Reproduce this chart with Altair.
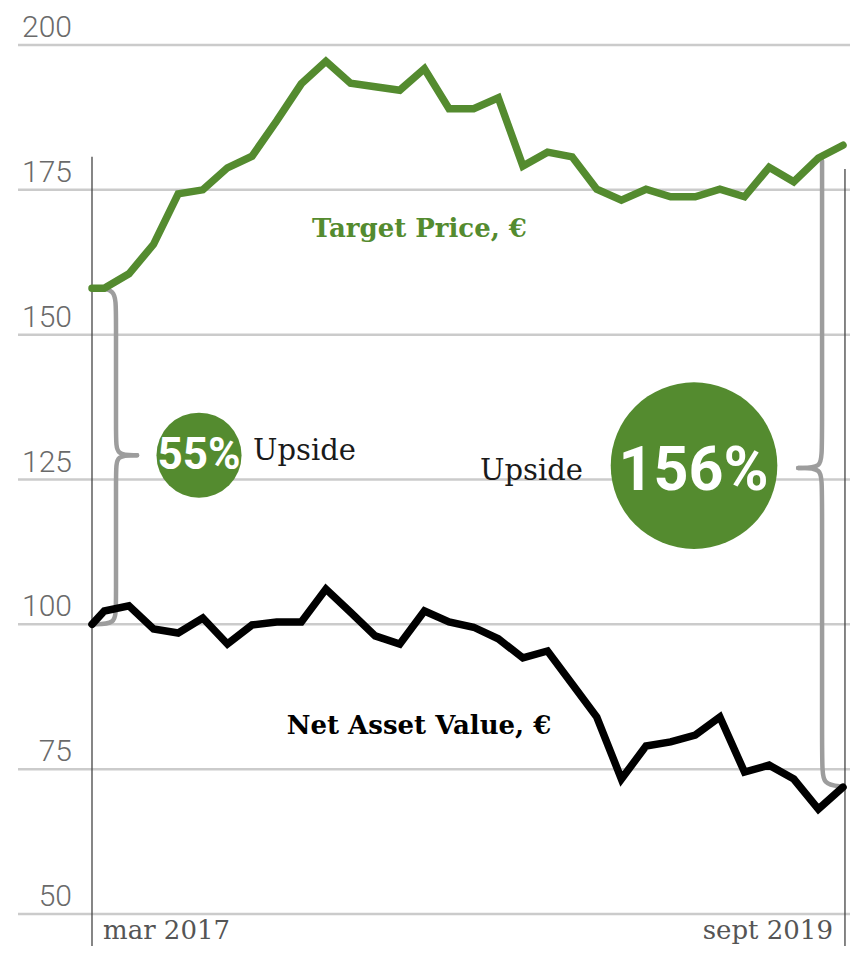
import altair as alt
import pandas as pd

# ---- data ----
x_idx = [-0.5] + list(range(31))
target_price = [158, 158, 160.5, 165.6, 174.3, 175, 178.8, 180.8, 186.9, 193.3,
                197.2, 193.4, 192.8, 192.2, 195.9, 189, 189, 190.9, 179.1, 181.5,
                180.7, 175.1, 173.2, 175.1, 173.8, 173.8, 175.1, 173.8, 178.9, 176.4,
                180.5, 182.7]
nav = [100, 102.3, 103.2, 99.2, 98.5, 101.1, 96.6, 99.9, 100.4, 100.4,
       106.1, 102.1, 98, 96.6, 102.3, 100.4, 99.5, 97.5, 94.2, 95.4,
       89.7, 84, 73.3, 79, 79.7, 80.9, 84, 74.5, 75.7, 73.3,
       68.1, 71.9]
y_ticks = [50, 75, 100, 125, 150, 175, 200]
date_labels = ["mar 2017", "sept 2019"]

# annotation anchors (data units)
brace_x = [-0.5, 0.475, 0.475, 0.475, 0.475, 1.33,
           1.33, 0.475, 0.475, 0.475, 0.475, -0.5,
           29.15, 29.15, 29.15, 28.18,
           28.18, 29.15, 29.15, 29.15, 29.15, 30.0]
brace_y = [158, 158, 154, 132, 129.2, 129.2,
           129.2, 129.2, 126.5, 103, 100, 100,
           180, 130, 127, 127,
           127, 127, 124, 76, 72.3, 72.0]
brace_seg = ["a"] * 6 + ["b"] * 6 + ["c"] * 4 + ["d"] * 6

GREEN = "#548b2f"
W, H = 832, 869

xs = alt.Scale(domain=[-0.5, 30], range=[74, 825])
ys = alt.Scale(domain=[50, 200], nice=False, zero=False)


def X(f):
    return alt.X(f, type="quantitative", scale=xs, axis=None)


def Y(f):
    return alt.Y(f, type="quantitative", scale=ys, axis=None)


grid_df = pd.DataFrame({"t": y_ticks})
grid = alt.Chart(grid_df).mark_rule(color="#cbcbcb", strokeWidth=2.5).encode(
    y=Y("t"), x=alt.value(0), x2=alt.value(W))
grid_lbl = alt.Chart(grid_df).mark_text(
    align="right", baseline="alphabetic", dy=-8, font="Roboto", fontWeight=300,
    fontSize=30, color="#6a6a6a").encode(y=Y("t"), x=alt.value(54), text="t:Q")

vline_df = pd.DataFrame({"x": [-0.5, 30.08], "top": [180.7, 178.6]})
vlines = alt.Chart(vline_df).mark_rule(color="#444444", strokeWidth=1.3).encode(
    x=X("x"), y=Y("top"), y2=alt.value(H + 32))

date_df = pd.DataFrame({"x": [-0.5, 30.08], "lab": date_labels})
date_l = alt.Chart(date_df.iloc[[0]]).mark_text(
    align="left", baseline="alphabetic", dx=11, font="DejaVu Serif", fontSize=26,
    fontWeight=300, color="#555555").encode(x=X("x"), y=alt.value(H + 25), text="lab:N")
date_r = alt.Chart(date_df.iloc[[1]]).mark_text(
    align="right", baseline="alphabetic", dx=-12, font="DejaVu Serif", fontSize=26,
    fontWeight=300, color="#555555").encode(x=X("x"), y=alt.value(H + 25), text="lab:N")

brace_df = pd.DataFrame({"x": brace_x, "y": brace_y, "seg": brace_seg,
                         "o": list(range(len(brace_x)))})
braces = alt.Chart(brace_df).mark_line(
    interpolate="basis", color="#9d9d9d", strokeWidth=4.5, strokeCap="round").encode(
    x=X("x"), y=Y("y"), detail="seg:N", order="o:Q")

line_df = pd.DataFrame({"x": x_idx, "tp": target_price, "nav": nav})
green = alt.Chart(line_df).mark_line(color=GREEN, strokeWidth=7.5, strokeCap="round").encode(
    x=X("x"), y=Y("tp"), order="x:Q")
black = alt.Chart(line_df).mark_line(color="#000000", strokeWidth=7.5, strokeCap="round").encode(
    x=X("x"), y=Y("nav"), order="x:Q")

circ_df = pd.DataFrame({"x": [3.846, 23.95], "y": [129.2, 127.4],
                        "s": [7238, 27759]})
circles = alt.Chart(circ_df).mark_circle(color=GREEN, opacity=1).encode(
    x=X("x"), y=Y("y"), size=alt.Size("s:Q", scale=None))

pct_small = alt.Chart(pd.DataFrame({"x": [3.846], "y": [126.8], "t": ["55%"]})).mark_text(
    font="Roboto", fontWeight="bold", fontSize=44, color="white", align="center",
    baseline="alphabetic").encode(x=X("x"), y=Y("y"), text="t:N")
pct_big = alt.Chart(pd.DataFrame({"x": [23.93], "y": [123.2], "t": ["156%"]})).mark_text(
    font="Roboto", fontWeight="bold", fontSize=61, color="white", align="center",
    baseline="alphabetic").encode(x=X("x"), y=Y("y"), text="t:N")

ups_l = alt.Chart(pd.DataFrame({"x": [6.04], "y": [128.4], "t": ["Upside"]})).mark_text(
    font="DejaVu Serif", fontSize=29, color="#1a1a1a", align="left",
    baseline="alphabetic").encode(x=X("x"), y=Y("y"), text="t:N")
ups_r = alt.Chart(pd.DataFrame({"x": [19.44], "y": [124.9], "t": ["Upside"]})).mark_text(
    font="DejaVu Serif", fontSize=29, color="#1a1a1a", align="right",
    baseline="alphabetic").encode(x=X("x"), y=Y("y"), text="t:N")

tp_lbl = alt.Chart(pd.DataFrame({"x": [12.8], "y": [166.9], "t": ["Target Price, €"]})).mark_text(
    font="DejaVu Serif", fontWeight="bold", fontSize=26, color=GREEN, align="center",
    baseline="alphabetic").encode(x=X("x"), y=Y("y"), text="t:N")
nav_lbl = alt.Chart(pd.DataFrame({"x": [12.78], "y": [81.1], "t": ["Net Asset Value, €"]})).mark_text(
    font="DejaVu Serif", fontWeight="bold", fontSize=26, color="#000000", align="center",
    baseline="alphabetic").encode(x=X("x"), y=Y("y"), text="t:N")

chart = alt.layer(
    grid, grid_lbl, vlines, date_l, date_r, braces, green, black,
    circles, pct_small, pct_big, ups_l, ups_r, tp_lbl, nav_lbl
).properties(
    width=W, height=H,
    padding={"left": 10, "top": 37, "right": 0, "bottom": 32},
    autosize="none",
).configure_view(stroke=None)

chart.save("out.html", embed_options={"renderer": "svg", "actions": False})
